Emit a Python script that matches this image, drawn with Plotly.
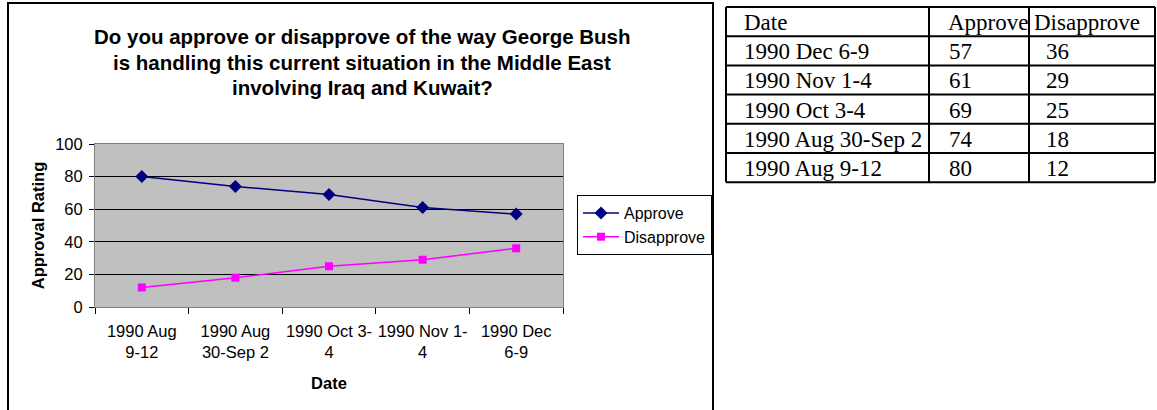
import plotly.graph_objects as go

W, H = 1157, 410

categories = ["1990 Aug 9-12", "1990 Aug 30-Sep 2", "1990 Oct 3-4", "1990 Nov 1-4", "1990 Dec 6-9"]
tick_labels = ["1990 Aug<br>9-12", "1990 Aug<br>30-Sep 2", "1990 Oct 3-<br>4", "1990 Nov 1-<br>4", "1990 Dec<br>6-9"]
approve = [80, 74, 69, 61, 57]
disapprove = [12, 18, 25, 29, 36]

title_lines = ["Do you approve or disapprove of the way George Bush",
               "is handling this current situation in the Middle East",
               "involving Iraq and Kuwait?"]

table_header = ["Date", "Approve", "Disapprove"]
table_dates = list(reversed(categories))
table_approve = list(reversed(approve))
table_disapprove = list(reversed(disapprove))


def px(x):
    return x / W


def py(y):
    return 1 - y / H


font_sans = "Liberation Sans, Arial"
font_serif = "Liberation Serif, Times New Roman"

fig = go.Figure()

fig.add_trace(go.Scatter(
    x=categories, y=approve, name="Approve", mode="lines+markers",
    line=dict(color="#000080", width=1.5),
    marker=dict(symbol="diamond", size=10, color="#000080"),
))
fig.add_trace(go.Scatter(
    x=categories, y=disapprove, name="Disapprove", mode="lines+markers",
    line=dict(color="#FF00FF", width=1.5),
    marker=dict(symbol="square", size=8, color="#FF00FF"),
))

fig.update_layout(
    width=W, height=H,
    margin=dict(l=0, r=0, t=0, b=0, autoexpand=False),
    paper_bgcolor="white",
    plot_bgcolor="#C0C0C0",
    showlegend=True,
    legend=dict(x=px(577), y=py(195), xanchor="left", yanchor="top",
                bordercolor="black", borderwidth=1, bgcolor="white",
                font=dict(family=font_sans, size=16, color="black"),
                itemwidth=36),
    xaxis=dict(domain=[px(95), px(563)], type="category", range=[-0.5, 4.5],
               tickvals=categories, ticktext=tick_labels, tickson="boundaries",
               tickangle=0, automargin=False,
               ticks="outside", ticklen=6, tickcolor="black", ticklabelstandoff=9,
               showline=True, linecolor="#808080", linewidth=1, mirror=True,
               showgrid=False, zeroline=False,
               tickfont=dict(family=font_sans, size=16.5, color="black"),
               title=dict(text="<b>Date</b>", font=dict(family=font_sans, size=16.5, color="black"), standoff=17)),
    yaxis=dict(domain=[py(307), py(144)], range=[0, 100], dtick=20, automargin=False,
               ticks="outside", ticklen=5, tickcolor="black", ticklabelstandoff=3,
               showline=True, linecolor="#808080", linewidth=1, mirror=True,
               showgrid=True, gridcolor="black", gridwidth=1, zeroline=False,
               tickfont=dict(family=font_sans, size=16.5, color="black"),
               title=dict(text="<b>Approval Rating</b>", font=dict(family=font_sans, size=16.5, color="black"), standoff=6)),
)

# Title, one annotation per line
for line, yc in zip(title_lines, [37, 62, 88]):
    fig.add_annotation(text="<b>" + line + "</b>", x=px(362), y=py(yc), xref="paper", yref="paper",
                       xanchor="center", yanchor="middle", showarrow=False,
                       font=dict(family=font_sans, size=20.5, color="black"))

# Chart frame
fig.add_shape(type="rect", xref="paper", yref="paper",
              x0=px(8), x1=px(713), y0=py(420), y1=py(3),
              line=dict(color="black", width=2), layer="below")

# Data table (right side)
col_edges = [726, 929, 1029, 1155]
row_top, row_h = 7, 29.2
n_rows = 1 + len(table_dates)
header_x = [742, 946, 1032]
body_x = [742, 947, 1044]

for xe in col_edges:
    fig.add_shape(type="line", xref="paper", yref="paper",
                  x0=px(xe), x1=px(xe), y0=py(row_top), y1=py(row_top + n_rows * row_h),
                  line=dict(color="black", width=2))
for r in range(n_rows + 1):
    yy = row_top + r * row_h
    fig.add_shape(type="line", xref="paper", yref="paper",
                  x0=px(col_edges[0]), x1=px(col_edges[-1]), y0=py(yy), y1=py(yy),
                  line=dict(color="black", width=2))

table_font = dict(family=font_serif, size=23, color="black")
for c, txt in enumerate(table_header):
    fig.add_annotation(text=txt, x=px(header_x[c]), y=py(row_top + row_h / 2 + 1),
                       xref="paper", yref="paper", xanchor="left", yanchor="middle",
                       showarrow=False, font=table_font)
columns = [table_dates, table_approve, table_disapprove]
for c, col in enumerate(columns):
    for r, val in enumerate(col):
        fig.add_annotation(text=str(val), x=px(body_x[c]), y=py(row_top + (r + 1) * row_h + row_h / 2 + 1),
                           xref="paper", yref="paper", xanchor="left", yanchor="middle",
                           showarrow=False, font=table_font)

fig.write_html("out.html")
